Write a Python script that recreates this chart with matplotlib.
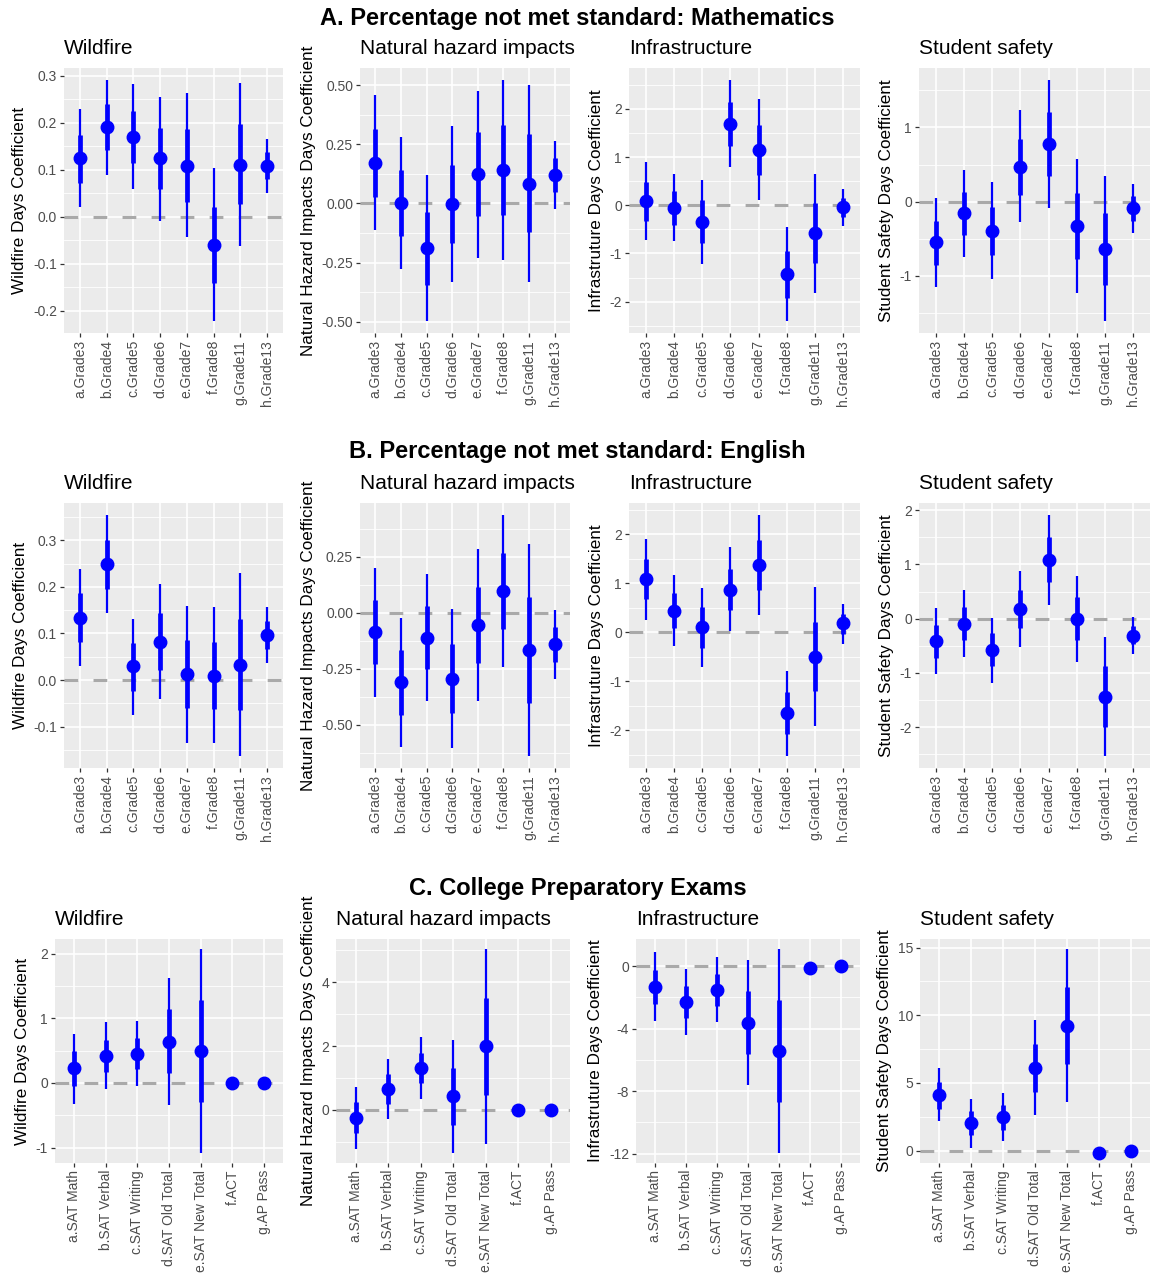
import numpy as np
import matplotlib.pyplot as plt

plt.rcParams['font.family'] = ['Liberation Sans', 'DejaVu Sans']

# categories
grades = ["a.Grade3", "b.Grade4", "c.Grade5", "d.Grade6", "e.Grade7", "f.Grade8", "g.Grade11", "h.Grade13"]
exams = ["a.SAT Math", "b.SAT Verbal", "c.SAT Writing", "d.SAT Old Total", "e.SAT New Total", "f.ACT", "g.AP Pass"]

section_titles = ["A. Percentage not met standard: Mathematics",
                  "B. Percentage not met standard: English",
                  "C. College Preparatory Exams"]
panel_titles = ["Wildfire", "Natural hazard impacts", "Infrastructure", "Student safety"]
y_labels = ["Wildfire Days Coefficient", "Natural Hazard Impacts Days Coefficient",
            "Infrastruture Days Coefficient", "Student Safety Days Coefficient"]

# A. Mathematics: estimate, inner (thick) interval, outer (thin) interval
math_wild_est = [0.125, 0.19, 0.17, 0.124, 0.108, -0.06, 0.111, 0.108]
math_wild_in = [(0.072, 0.174), (0.141, 0.24), (0.114, 0.226), (0.058, 0.188), (0.032, 0.186), (-0.141, 0.021), (0.026, 0.197), (0.081, 0.137)]
math_wild_out = [(0.021, 0.229), (0.089, 0.291), (0.058, 0.282), (-0.009, 0.254), (-0.044, 0.263), (-0.222, 0.103), (-0.062, 0.284), (0.051, 0.166)]

math_nh_est = [0.172, 0.0, -0.19, -0.003, 0.123, 0.141, 0.083, 0.121]
math_nh_in = [(0.028, 0.314), (-0.137, 0.141), (-0.345, -0.035), (-0.169, 0.162), (-0.054, 0.30), (-0.049, 0.331), (-0.123, 0.292), (0.049, 0.193)]
math_nh_out = [(-0.113, 0.458), (-0.279, 0.282), (-0.497, 0.118), (-0.334, 0.327), (-0.232, 0.475), (-0.239, 0.521), (-0.334, 0.50), (-0.025, 0.263)]

math_inf_est = [0.09, -0.06, -0.35, 1.69, 1.15, -1.43, -0.58, -0.04]
math_inf_in = [(-0.32, 0.49), (-0.41, 0.30), (-0.79, 0.10), (1.23, 2.15), (0.63, 1.67), (-1.92, -0.94), (-1.20, 0.04), (-0.24, 0.15)]
math_inf_out = [(-0.73, 0.90), (-0.75, 0.66), (-1.22, 0.53), (0.79, 2.60), (0.10, 2.21), (-2.40, -0.46), (-1.83, 0.66), (-0.43, 0.34)]

math_ss_est = [-0.55, -0.16, -0.39, 0.47, 0.78, -0.33, -0.64, -0.09]
math_ss_in = [(-0.85, -0.26), (-0.45, 0.13), (-0.72, -0.07), (0.09, 0.85), (0.35, 1.21), (-0.78, 0.12), (-1.12, -0.15), (-0.26, 0.08)]
math_ss_out = [(-1.15, 0.05), (-0.75, 0.43), (-1.05, 0.26), (-0.28, 1.23), (-0.09, 1.64), (-1.23, 0.57), (-1.61, 0.34), (-0.42, 0.24)]

# B. English
eng_wild_est = [0.134, 0.249, 0.029, 0.082, 0.013, 0.009, 0.033, 0.096]
eng_wild_in = [(0.082, 0.186), (0.196, 0.30), (-0.023, 0.08), (0.021, 0.143), (-0.061, 0.086), (-0.062, 0.081), (-0.064, 0.13), (0.066, 0.126)]
eng_wild_out = [(0.029, 0.238), (0.144, 0.354), (-0.075, 0.131), (-0.041, 0.205), (-0.136, 0.159), (-0.136, 0.156), (-0.163, 0.229), (0.037, 0.157)]

eng_nh_est = [-0.088, -0.311, -0.112, -0.296, -0.054, 0.097, -0.168, -0.141]
eng_nh_in = [(-0.231, 0.057), (-0.457, -0.167), (-0.253, 0.03), (-0.449, -0.14), (-0.223, 0.116), (-0.074, 0.268), (-0.405, 0.068), (-0.219, -0.065)]
eng_nh_out = [(-0.375, 0.198), (-0.598, -0.022), (-0.394, 0.171), (-0.606, 0.015), (-0.393, 0.286), (-0.244, 0.436), (-0.64, 0.307), (-0.296, 0.012)]

eng_inf_est = [1.08, 0.44, 0.10, 0.87, 1.38, -1.65, -0.51, 0.18]
eng_inf_in = [(0.68, 1.49), (0.09, 0.80), (-0.31, 0.51), (0.45, 1.29), (0.87, 1.88), (-2.08, -1.22), (-1.20, 0.21), (-0.03, 0.38)]
eng_inf_out = [(0.26, 1.90), (-0.28, 1.16), (-0.71, 0.90), (0.02, 1.73), (0.36, 2.39), (-2.52, -0.79), (-1.91, 0.92), (-0.23, 0.58)]

eng_ss_est = [-0.42, -0.09, -0.58, 0.17, 1.09, 0.0, -1.44, -0.31]
eng_ss_in = [(-0.72, -0.12), (-0.39, 0.22), (-0.88, -0.27), (-0.17, 0.52), (0.68, 1.51), (-0.40, 0.40), (-1.99, -0.88), (-0.47, -0.13)]
eng_ss_out = [(-1.02, 0.19), (-0.70, 0.52), (-1.18, 0.02), (-0.53, 0.87), (0.26, 1.91), (-0.79, 0.79), (-2.53, -0.33), (-0.65, 0.04)]

# C. College preparatory exams
exam_wild_est = [0.225, 0.42, 0.455, 0.64, 0.49, 0.0, 0.0]
exam_wild_in = [(-0.05, 0.49), (0.17, 0.67), (0.21, 0.70), (0.16, 1.14), (-0.29, 1.28), (0.0, 0.0), (0.0, 0.0)]
exam_wild_out = [(-0.32, 0.76), (-0.09, 0.94), (-0.04, 0.96), (-0.34, 1.63), (-1.08, 2.07), (0.0, 0.0), (0.0, 0.0)]

exam_nh_est = [-0.25, 0.65, 1.31, 0.42, 1.99, 0.0, 0.0]
exam_nh_in = [(-0.73, 0.24), (0.19, 1.12), (0.83, 1.79), (-0.47, 1.30), (0.47, 3.51), (0.0, 0.0), (0.0, 0.0)]
exam_nh_out = [(-1.23, 0.73), (-0.28, 1.58), (0.33, 2.29), (-1.35, 2.18), (-1.06, 5.04), (0.0, 0.0), (0.0, 0.0)]

exam_inf_est = [-1.31, -2.31, -1.52, -3.64, -5.44, -0.13, 0.0]
exam_inf_in = [(-2.41, -0.23), (-3.32, -1.25), (-2.54, -0.51), (-5.63, -1.61), (-8.66, -2.16), (-0.13, -0.13), (0.0, 0.0)]
exam_inf_out = [(-3.51, 0.91), (-4.38, -0.19), (-3.58, 0.55), (-7.62, 0.38), (-11.94, 1.08), (-0.13, -0.13), (0.0, 0.0)]

exam_ss_est = [4.09, 2.03, 2.45, 6.12, 9.22, -0.17, 0.0]
exam_ss_in = [(3.10, 5.08), (1.12, 2.93), (1.54, 3.35), (4.34, 7.88), (6.40, 12.08), (-0.17, -0.17), (0.0, 0.0)]
exam_ss_out = [(2.16, 6.07), (0.17, 3.84), (0.67, 4.22), (2.60, 9.67), (3.60, 14.88), (-0.17, -0.17), (0.0, 0.0)]

# y tick labels per panel
yt_math = [["-0.2", "-0.1", "0.0", "0.1", "0.2", "0.3"], ["-0.50", "-0.25", "0.00", "0.25", "0.50"],
           ["-2", "-1", "0", "1", "2"], ["-1", "0", "1"]]
yt_eng = [["-0.1", "0.0", "0.1", "0.2", "0.3"], ["-0.50", "-0.25", "0.00", "0.25"],
          ["-2", "-1", "0", "1", "2"], ["-2", "-1", "0", "1", "2"]]
yt_exam = [["-1", "0", "1", "2"], ["0", "2", "4"], ["-12", "-8", "-4", "0"], ["0", "5", "10", "15"]]

rows = [
    (grades, [(math_wild_est, math_wild_in, math_wild_out), (math_nh_est, math_nh_in, math_nh_out),
              (math_inf_est, math_inf_in, math_inf_out), (math_ss_est, math_ss_in, math_ss_out)], yt_math),
    (grades, [(eng_wild_est, eng_wild_in, eng_wild_out), (eng_nh_est, eng_nh_in, eng_nh_out),
              (eng_inf_est, eng_inf_in, eng_inf_out), (eng_ss_est, eng_ss_in, eng_ss_out)], yt_eng),
    (exams, [(exam_wild_est, exam_wild_in, exam_wild_out), (exam_nh_est, exam_nh_in, exam_nh_out),
             (exam_inf_est, exam_inf_in, exam_inf_out), (exam_ss_est, exam_ss_in, exam_ss_out)], yt_exam),
]

# layout in pixels
W, H = 1155, 1282
row_tb = [(68, 333), (503, 768), (939, 1163)]
row_lr = [[(64, 283), (360, 570), (629, 860), (919, 1150)],
          [(64, 283), (360, 570), (629, 860), (919, 1150)],
          [(55, 283), (336, 570), (636, 860), (920, 1150)]]
title_y = [18, 452, 888]

fig = plt.figure(figsize=(W / 100, H / 100), dpi=100)

for r, (cats, panels, yticks) in enumerate(rows):
    fig.text(0.5, 1 - title_y[r] / H, section_titles[r], ha='center', va='center',
             fontsize=17, fontweight='bold')
    top, bot = row_tb[r]
    for c, (est, inner, outer) in enumerate(panels):
        l, rr = row_lr[r][c]
        ax = fig.add_axes([l / W, 1 - bot / H, (rr - l) / W, (bot - top) / H])
        ax.set_facecolor('#EBEBEB')
        x = np.arange(len(cats))
        est = np.array(est)
        inner = np.array(inner)
        outer = np.array(outer)

        ticks = [float(t) for t in yticks[c]]
        step = ticks[1] - ticks[0]
        lo = min(outer.min(), est.min(), 0)
        hi = max(outer.max(), est.max(), 0)
        pad = (hi - lo) * 0.05
        ax.set_ylim(lo - pad, hi + pad)
        ax.set_xlim(-0.6, len(cats) - 0.4)

        # ggplot-style grid
        minors = [ticks[0] - step / 2] + [t + step / 2 for t in ticks]
        for m in minors:
            if lo - pad < m < hi + pad:
                ax.axhline(m, color='white', lw=0.6, zorder=0.5)
        for t in ticks:
            ax.axhline(t, color='white', lw=1.2, zorder=0.6)
        for xi in x:
            ax.axvline(xi, color='white', lw=1.2, zorder=0.6)

        ax.axhline(0, color='#A9A9A9', lw=2.2, dashes=(4.5, 5), zorder=1)
        ax.vlines(x, outer[:, 0], outer[:, 1], color='#0000FF', lw=1.6, zorder=2)
        ax.vlines(x, inner[:, 0], inner[:, 1], color='#0000FF', lw=3.4, zorder=3)
        ax.plot(x, est, 'o', color='#0000FF', ms=9, zorder=4)

        ax.set_yticks(ticks)
        ax.set_yticklabels(yticks[c])
        ax.set_xticks(x)
        ax.set_xticklabels(cats, rotation=90, va='top', ha='center')
        ax.tick_params(axis='both', colors='#333333', labelcolor='#4D4D4D',
                       labelsize=10, length=3, width=0.9, pad=2)
        for s in ax.spines.values():
            s.set_visible(False)
        ax.set_ylabel(y_labels[c], fontsize=12.3, labelpad=4)
        ax.set_title(panel_titles[c], loc='left', fontsize=15, pad=10)

fig.savefig('out.png', dpi=100)
